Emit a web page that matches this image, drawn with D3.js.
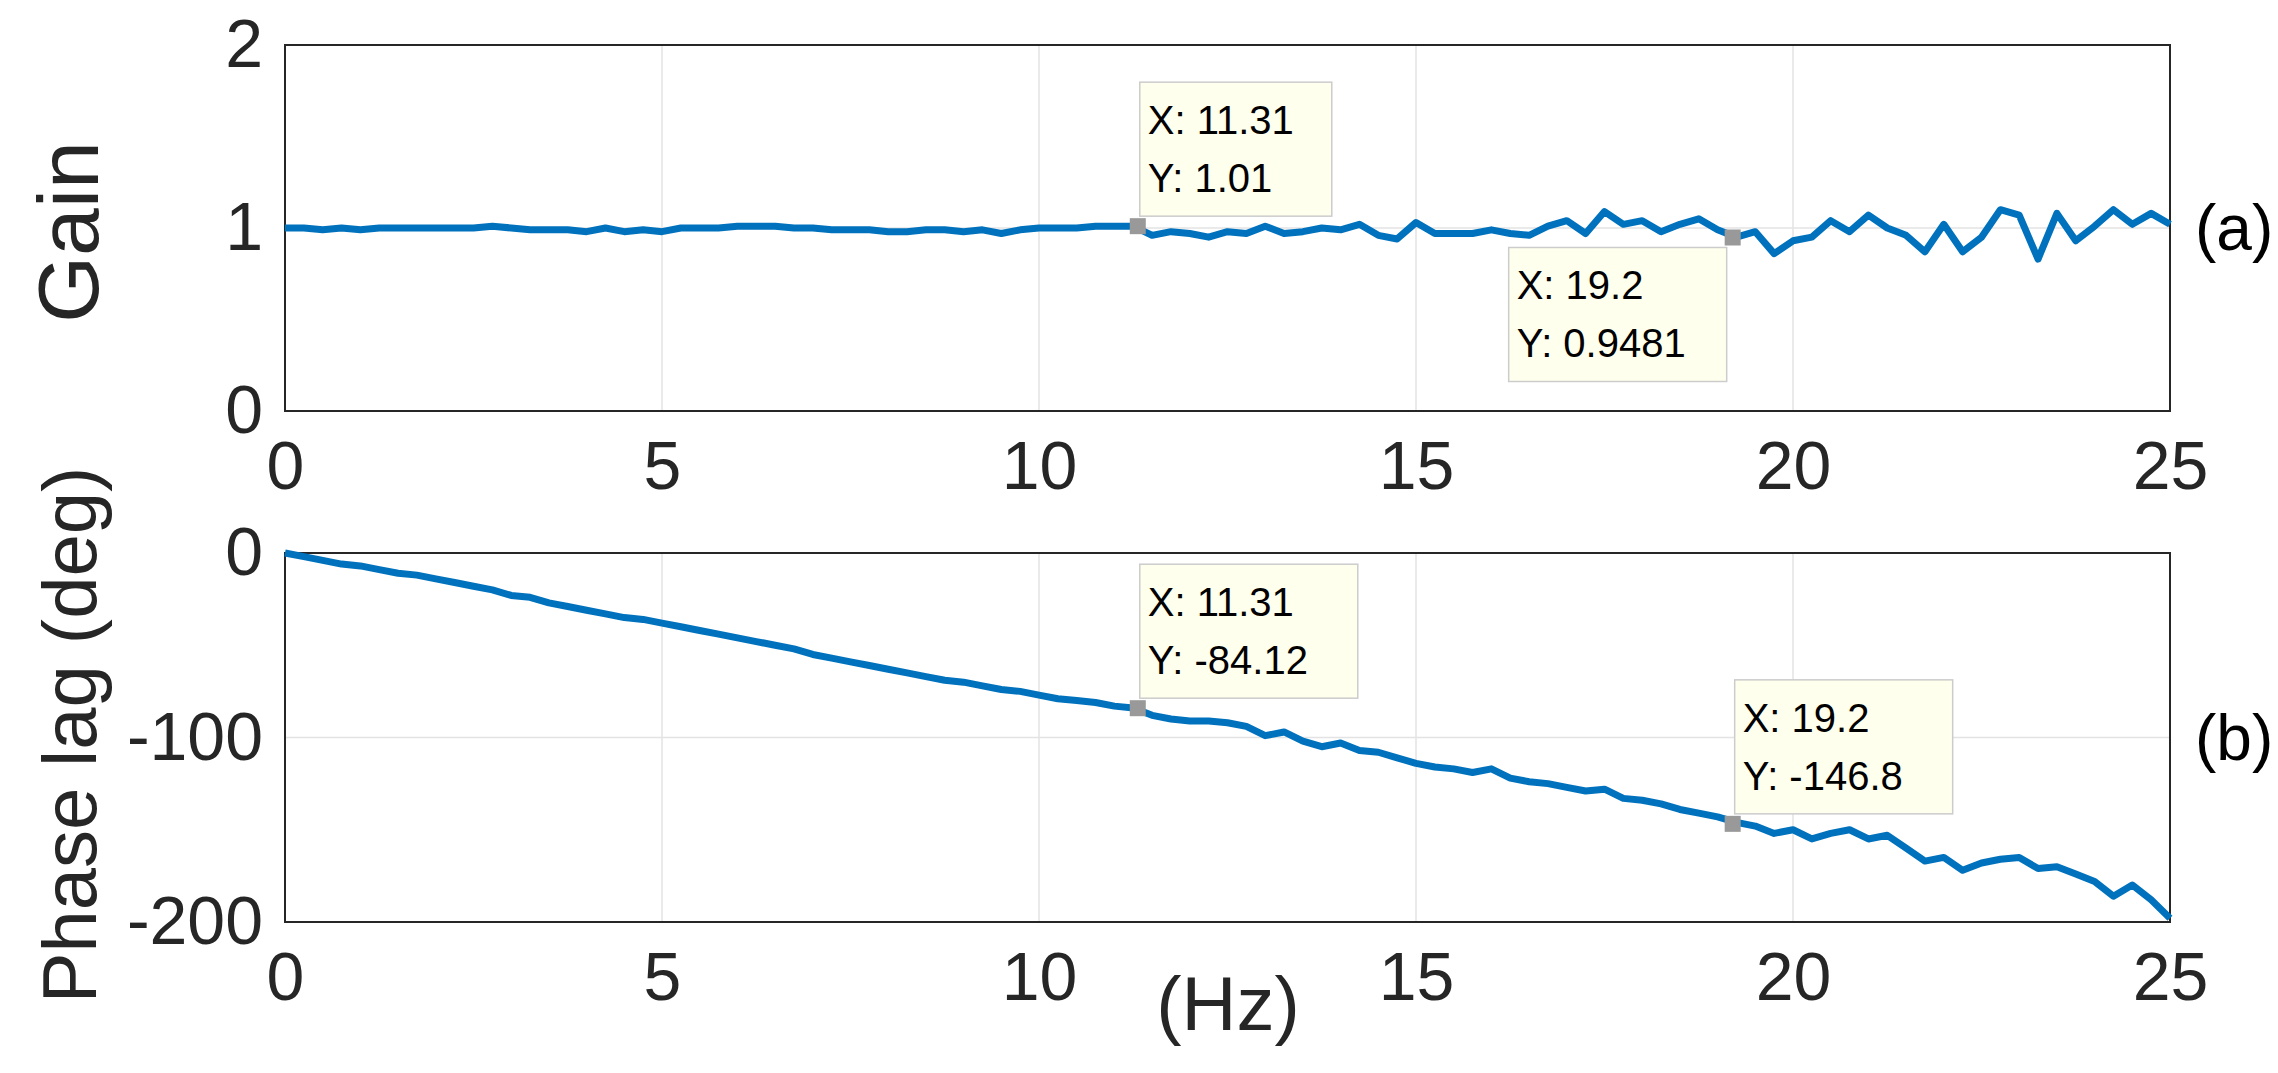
<!DOCTYPE html>
<html><head><meta charset="utf-8">
<script src="https://cdn.jsdelivr.net/npm/d3@7"></script>
<style>body{margin:0;background:#fff}</style></head>
<body><svg id="c" width="2278" height="1073"></svg>
<script>
const freqStep = 0.25;
const freq = d3.range(0, 25 + 1e-9, freqStep);
const gain = [1.0,1.0,0.99,1.0,0.99,1.0,1.0,1.0,1.0,1.0,1.0,1.01,1.0,0.99,0.99,0.99,0.98,1.0,0.98,0.99,0.98,1.0,1.0,1.0,1.01,1.01,1.01,1.0,1.0,0.99,0.99,0.99,0.98,0.98,0.99,0.99,0.98,0.99,0.97,0.99,1.0,
1.0,1.0,1.01,1.01,1.01,
0.96,0.98,0.97,0.95,0.98,0.97,1.01,0.97,0.98,1.0,0.99,1.02,0.96,0.94,1.03,0.97,0.97,0.97,0.99,0.97,0.96,1.01,1.04,0.97,1.09,1.02,1.04,0.98,1.02,1.05,0.99,0.95,0.98,0.86,0.93,0.95,1.04,0.98,1.07,1.0,0.96,0.87,1.02,0.87,0.95,1.1,1.07,0.83,1.08,0.93,1.01,1.1,1.02,1.08,1.02];
const phase = [0,-2,-4,-6,-7,-9,-11,-12,-14,-16,-18,-20,-23,-24,-27,-29,-31,-33,-35,-36,-38,-40,-42,-44,-46,-48,-50,-52,-55,-57,-59,-61,-63,-65,-67,-69,-70,-72,-74,-75,-77,
-79,-80,-81,-83,-84,
-88,-90,-91,-91,-92,-94,-99,-97,-102,-105,-103,-107,-108,-111,-114,-116,-117,-119,-117,-122,-124,-125,-127,-129,-128,-133,-134,-136,-139,-141,-143,-146,-148,-152,-150,-155,-152,-150,-155,-153,-160,-167,-165,-172,-168,-166,-165,-171,-170,-174,
-178,-186,-180,-188,-198];
const xTicks = [0,5,10,15,20,25];
const gainTicks = [0,1,2];
const phaseTicks = [-200,-100,0];
const gainTips = [{x:11.31,y:1.01,lines:["X: 11.31","Y: 1.01"],pos:"above"},{x:19.2,y:0.9481,lines:["X: 19.2","Y: 0.9481"],pos:"belowLeft"}];
const phaseTips = [{x:11.31,y:-84.12,lines:["X: 11.31","Y: -84.12"],pos:"above"},{x:19.2,y:-146.8,lines:["X: 19.2","Y: -146.8"],pos:"above"}];

const svg = d3.select("#c");
const F = "Liberation Sans, Arial, sans-serif";
const fmt = d => String(d);
const x = d3.scaleLinear().domain([0,25]).range([285,2170]);
function panel(top,bottom,domain,ticks,data,tips,label){
  const y = d3.scaleLinear().domain(domain).range([bottom,top]);
  const g = svg.append("g");
  g.selectAll(".gx").data(xTicks).join("line").attr("x1",d=>x(d)).attr("x2",d=>x(d)).attr("y1",top).attr("y2",bottom).attr("stroke","#e3e3e3").attr("stroke-width",1.5);
  g.selectAll(".gy").data(ticks).join("line").attr("x1",285).attr("x2",2170).attr("y1",d=>y(d)).attr("y2",d=>y(d)).attr("stroke","#e3e3e3").attr("stroke-width",1.5);
  const ax = d3.axisBottom(x).tickValues(xTicks).tickFormat(fmt).tickSize(0).tickPadding(30);
  const gx = g.append("g").attr("transform",`translate(0,${bottom})`).call(ax);
  gx.select(".domain").remove();
  gx.selectAll("text").attr("font-size",68).attr("font-family",F).attr("fill","#262626");
  const ay = d3.axisLeft(y).tickValues(ticks).tickFormat(fmt).tickSize(0).tickPadding(22);
  const gy = g.append("g").attr("transform","translate(285,0)").call(ay);
  gy.select(".domain").remove();
  gy.selectAll("text").attr("font-size",68).attr("font-family",F).attr("fill","#262626");
  g.append("rect").attr("x",285).attr("y",top).attr("width",2170-285).attr("height",bottom-top).attr("fill","none").attr("stroke","#262626").attr("stroke-width",2);
  g.append("path").datum(freq.map((f,i)=>[f,data[i]])).attr("d",d3.line().x(d=>x(d[0])).y(d=>y(d[1]))).attr("fill","none").attr("stroke","#0072BD").attr("stroke-width",7).attr("stroke-linejoin","round");
  tips.forEach(t=>{
    const mx=x(t.x), my=y(t.y);
    const w = t.lines[1].length>8 ? 218 : 192, h=134;
    let bx, by;
    if(t.pos==="above"){bx=mx+2; by=my-h-10;} else {bx=mx-w-6; by=my+10;}
    g.append("rect").attr("x",bx).attr("y",by).attr("width",w).attr("height",h).attr("fill","#ffffee").attr("stroke","#cccccc").attr("stroke-width",1.5);
    t.lines.forEach((s,i)=>g.append("text").attr("x",bx+8).attr("y",by+52+i*58).attr("font-size",40).attr("font-family",F).attr("fill","#000").text(s));
    g.append("rect").attr("x",mx-8).attr("y",my-8).attr("width",16).attr("height",16).attr("fill","#999");
  });
  svg.append("text").attr("x",2195).attr("y",(top+bottom)/2+22).attr("font-size",64).attr("font-family",F).attr("fill","#000").text(label);
  return y;
}
panel(45,411,[0,2],gainTicks,gain,gainTips,"(a)");
panel(553,922,[-200,0],phaseTicks,phase,phaseTips,"(b)");
svg.append("text").attr("transform","translate(98,232) rotate(-90)").attr("text-anchor","middle").attr("font-size",86).attr("font-family",F).attr("fill","#262626").text("Gain");
svg.append("text").attr("transform","translate(96,735) rotate(-90)").attr("text-anchor","middle").attr("font-size",76).attr("font-family",F).attr("fill","#262626").text("Phase lag (deg)");
svg.append("text").attr("x",1228).attr("y",1030).attr("text-anchor","middle").attr("font-size",76).attr("font-family",F).attr("fill","#262626").text("(Hz)");
</script></body></html>
